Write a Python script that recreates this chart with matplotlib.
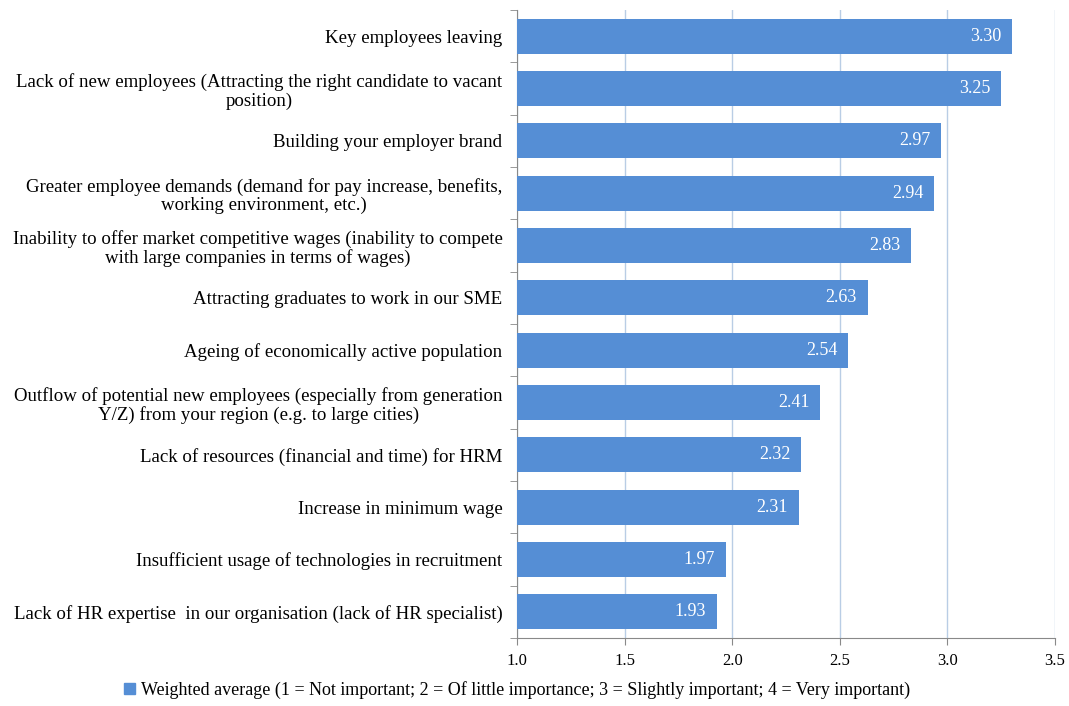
import matplotlib
matplotlib.use("Agg")
from matplotlib import pyplot as plt
from matplotlib.patches import Patch

plt.rcParams['font.family'] = ['Liberation Serif', 'DejaVu Serif']

categories = [
    "Key employees leaving",
    "Lack of new employees (Attracting the right candidate to vacant\nposition)",
    "Building your employer brand",
    "Greater employee demands (demand for pay increase, benefits,\nworking environment, etc.)",
    "Inability to offer market competitive wages (inability to compete\nwith large companies in terms of wages)",
    "Attracting graduates to work in our SME",
    "Ageing of economically active population",
    "Outflow of potential new employees (especially from generation\nY/Z) from your region (e.g. to large cities)",
    "Lack of resources (financial and time) for HRM",
    "Increase in minimum wage",
    "Insufficient usage of technologies in recruitment",
    "Lack of HR expertise  in our organisation (lack of HR specialist)",
]
values = [3.30, 3.25, 2.97, 2.94, 2.83, 2.63, 2.54, 2.41, 2.32, 2.31, 1.97, 1.93]
xticks = [1.0, 1.5, 2.0, 2.5, 3.0, 3.5]
legend_label = "Weighted average (1 = Not important; 2 = Of little importance; 3 = Slightly important; 4 = Very important)"

bar_color = '#558ED5'
grid_color = '#B9CDE5'
axis_color = '#898989'

fig = plt.figure(figsize=(10.69, 7.06), dpi=100)
ax = fig.add_axes([517 / 1069, 1 - 638 / 706, (1055 - 517) / 1069, (638 - 10) / 706])

pos = list(range(len(categories)))
ax.barh(pos, [v - 1.0 for v in values], left=1.0, height=0.67, color=bar_color, zorder=3)
for p, v in zip(pos, values):
    ax.text(v - 0.05, p, f"{v:.2f}", color='white', ha='right', va='center', fontsize=13, zorder=4)

ax.set_xlim(1.0, 3.5)
ax.set_ylim(len(categories) - 0.5, -0.5)
ax.set_xticks(xticks)
ax.set_xticklabels([f"{t:.1f}" for t in xticks], fontsize=12)
ax.xaxis.grid(True, color=grid_color, linewidth=1, zorder=0)

# category labels, ticks between categories
ax.set_yticks(pos)
ax.set_yticklabels(categories, fontsize=13.6, ha='right', multialignment='center', linespacing=1.12)
ax.tick_params(axis='y', length=0, pad=10.5)
ax.set_yticks([p - 0.5 for p in range(len(categories) + 1)], minor=True)
ax.tick_params(axis='y', which='minor', length=5, color=axis_color, direction='out')
ax.tick_params(axis='x', length=5, color=axis_color, direction='out', pad=6)

for s in ['top', 'right']:
    ax.spines[s].set_visible(False)
for s in ['left', 'bottom']:
    ax.spines[s].set_color(axis_color)

handle = Patch(color=bar_color)
fig.legend([handle], [legend_label], loc='center', bbox_to_anchor=(517 / 1069, 1 - 690 / 706),
           frameon=False, fontsize=13, handlelength=0.6, handleheight=0.6, handletextpad=0.3)

fig.savefig("out.png", dpi=100)
